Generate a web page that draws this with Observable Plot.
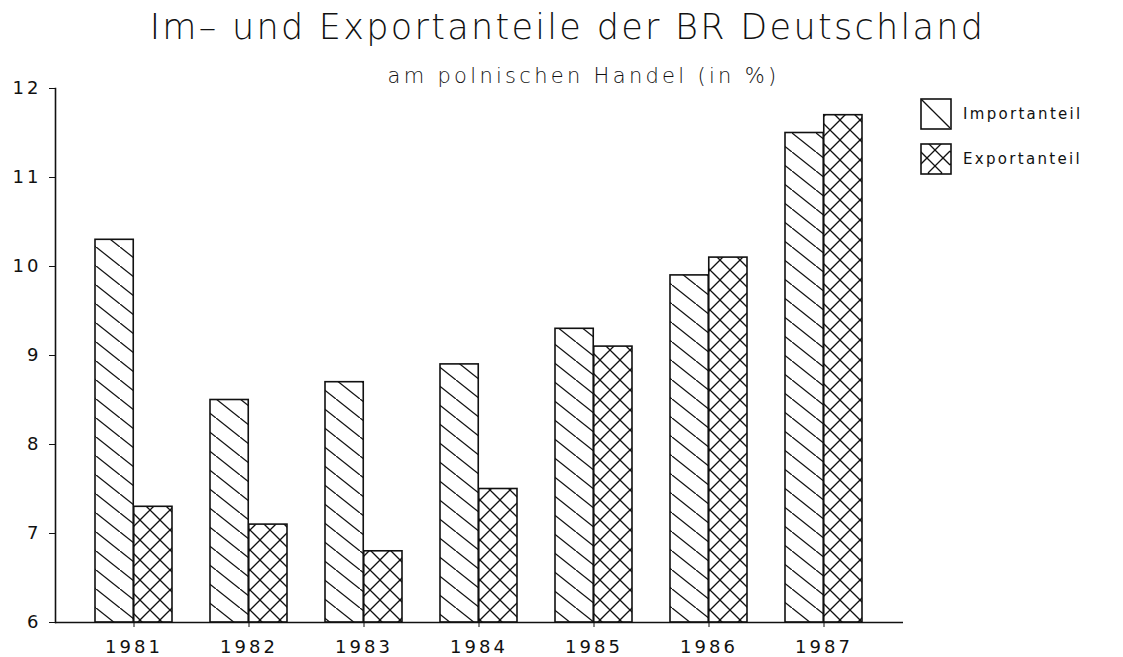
<!DOCTYPE html>
<html>
<head>
<meta charset="utf-8">
<script src="https://cdn.jsdelivr.net/npm/d3@7"></script>
<script src="https://cdn.jsdelivr.net/npm/@observablehq/plot@0.6"></script>
<style>
  html, body { margin: 0; padding: 0; background: #fff; }
  #wrap { position: relative; width: 1123px; height: 657px; overflow: hidden; font-family: "DejaVu Sans", sans-serif; color: #111; }
  #title { position: absolute; left: 0; width: 1123px; top: 5px; text-align: center; font-size: 35px; font-weight: 200; letter-spacing: 2.3px; line-height: 44px; padding-left: 12px; box-sizing: border-box; white-space: nowrap; }
  #subtitle { position: absolute; left: 0; width: 1123px; top: 62px; text-align: center; font-size: 21px; font-weight: 200; letter-spacing: 3.3px; line-height: 28px; padding-left: 44px; box-sizing: border-box; white-space: nowrap; }
  #legend { position: absolute; left: 920px; top: 99px; }
  .item { display: flex; align-items: center; height: 30px; margin-bottom: 15px; }
  .item svg { display: block; margin-right: 11px; }
  .item span { font-size: 15px; letter-spacing: 2.3px; }
  #chart svg { display: block; }
</style>
</head>
<body>
<svg width="0" height="0" style="position:absolute">
  <defs>
    <pattern id="hatchImport" patternUnits="userSpaceOnUse" width="24" height="19">
      <rect width="24" height="19" fill="white"/>
      <line x1="0" y1="0" x2="24" y2="19" stroke="#111" stroke-width="1.3"/>
      <line x1="-24" y1="-19" x2="0" y2="0" stroke="#111" stroke-width="1.3"/>
      <line x1="24" y1="19" x2="48" y2="38" stroke="#111" stroke-width="1.3"/>
    </pattern>
    <pattern id="hatchExport" patternUnits="userSpaceOnUse" width="20" height="20">
      <rect width="20" height="20" fill="white"/>
      <line x1="-2" y1="-2" x2="22" y2="22" stroke="#111" stroke-width="1.3"/>
      <line x1="22" y1="-2" x2="-2" y2="22" stroke="#111" stroke-width="1.3"/>
    </pattern>
    <pattern id="legImport" patternUnits="userSpaceOnUse" width="30" height="30">
      <rect width="30" height="30" fill="white"/>
      <line x1="0" y1="0" x2="30" y2="30" stroke="#111" stroke-width="1.3"/>
    </pattern>
    <pattern id="legExport" patternUnits="userSpaceOnUse" width="30" height="30">
      <rect width="30" height="30" fill="white"/>
      <line x1="0" y1="8" x2="22" y2="30" stroke="#111" stroke-width="1.3"/>
      <line x1="22" y1="0" x2="0" y2="22" stroke="#111" stroke-width="1.3"/>
      <line x1="8" y1="0" x2="30" y2="22" stroke="#111" stroke-width="1.3"/>
      <line x1="30" y1="8" x2="8" y2="30" stroke="#111" stroke-width="1.3"/>
    </pattern>
  </defs>
</svg>
<div id="wrap">
  <div id="title">Im– und Exportanteile der BR Deutschland</div>
  <div id="subtitle">am polnischen Handel (in %)</div>
  <div id="chart"></div>
  <div id="legend"></div>
</div>
<script>
// ---- data ----
const years = ["1981", "1982", "1983", "1984", "1985", "1986", "1987"];
const importValues = [10.3, 8.5, 8.7, 8.9, 9.3, 9.9, 11.5];
const exportValues = [7.3, 7.1, 6.8, 7.5, 9.1, 10.1, 11.7];
const seriesNames = ["Importanteil", "Exportanteil"];
const yTicks = [6, 7, 8, 9, 10, 11, 12];

// ---- layout ----
const W = 1123, H = 657;
const mL = 55, mR = 220, mT = 88, mB = 35;
const pad = 0.33;

const importData = years.map((y, i) => ({year: y, series: seriesNames[0], value: importValues[i]}));
const exportData = years.map((y, i) => ({year: y, series: seriesNames[1], value: exportValues[i]}));

const bw = Plot.scale({x: {type: "band", domain: years, range: [mL, W - mR], padding: pad}}).bandwidth;

const font = "DejaVu Sans, sans-serif";

const chart = Plot.plot({
  width: W, height: H,
  marginLeft: mL, marginRight: mR, marginTop: mT, marginBottom: mB,
  style: {fontFamily: font, background: "transparent", color: "#111"},
  x: {type: "band", domain: years, padding: pad, label: null},
  y: {domain: [6, 12], label: null},
  marks: [
    Plot.barY(importData, {x: "year", y1: 6, y2: "value", insetRight: bw / 2, insetLeft: 0,
      fill: "url(#hatchImport)", stroke: "#111", strokeWidth: 1.6}),
    Plot.barY(exportData, {x: "year", y1: 6, y2: "value", insetLeft: bw / 2, insetRight: 0,
      fill: "url(#hatchExport)", stroke: "#111", strokeWidth: 1.6}),
    Plot.ruleY([6], {stroke: "#111", strokeWidth: 1.6}),
    Plot.frame({anchor: "left", stroke: "#111", strokeWidth: 1.6}),
    Plot.axisY({ticks: yTicks, tickSize: 6, tickPadding: 8, fontSize: 18, label: null, tickFormat: d3.format("d")}),
    Plot.axisX({tickSize: 5, tickPadding: 13, fontSize: 18, label: null})
  ]
});
chart.querySelectorAll("text").forEach(t => t.setAttribute("letter-spacing", "3"));
document.getElementById("chart").appendChild(chart);

// ---- legend ----
const legendFills = ["url(#legImport)", "url(#legExport)"];
const legend = document.getElementById("legend");
seriesNames.forEach((name, i) => {
  const item = document.createElement("div");
  item.className = "item";
  item.innerHTML = `<svg width="32" height="32"><rect x="1" y="1" width="30" height="30" fill="${legendFills[i]}" stroke="#111" stroke-width="1.6"/></svg><span>${name}</span>`;
  legend.appendChild(item);
});
</script>
</body>
</html>
